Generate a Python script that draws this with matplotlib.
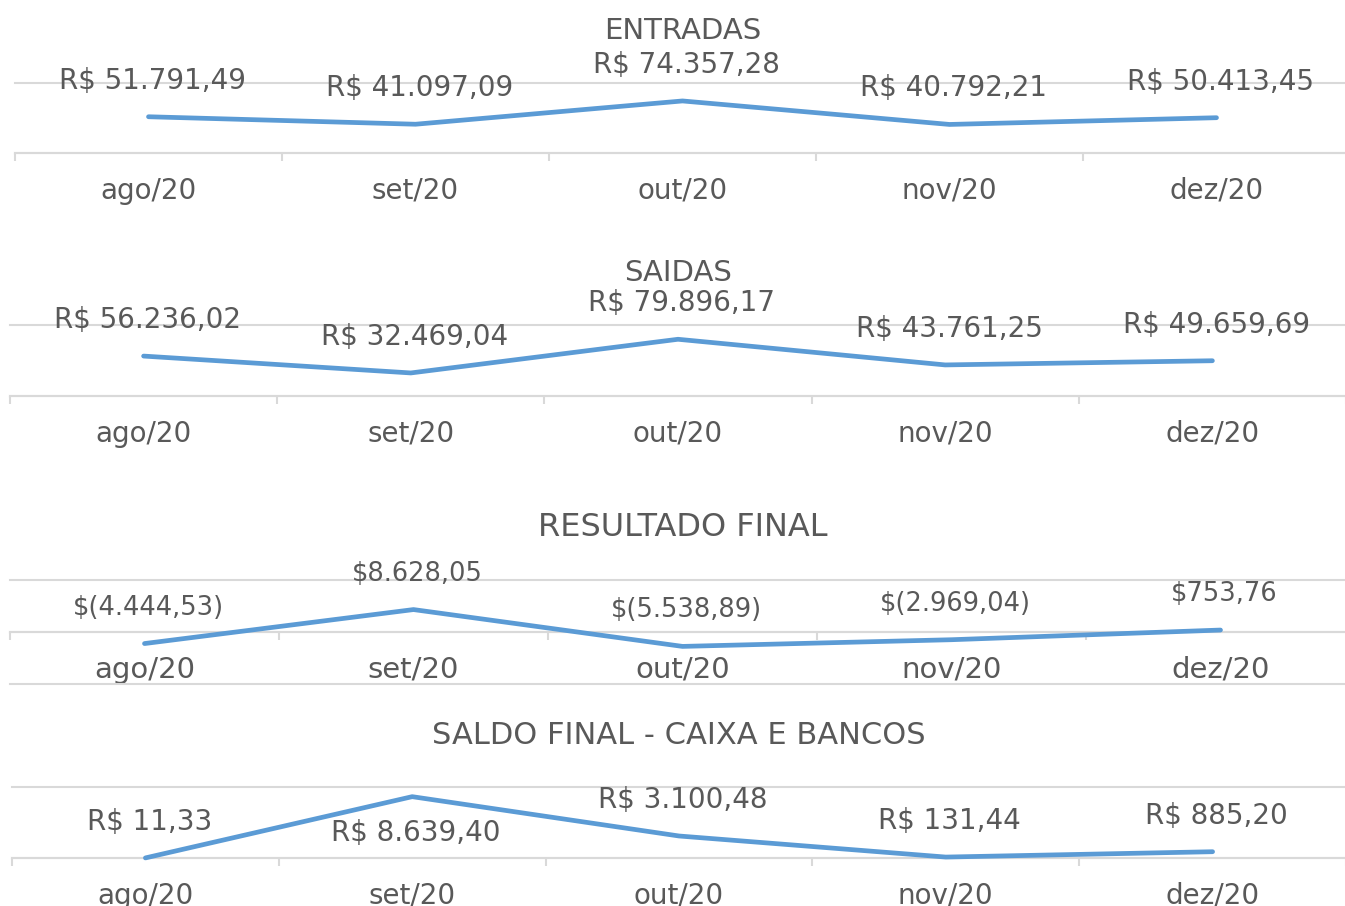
import matplotlib
matplotlib.use("Agg")
import matplotlib.pyplot as plt

matplotlib.rcParams.update({"font.family": "DejaVu Sans"})

W, H = 1345, 906
TXT = "#595959"
GRID = "#D9D9D9"
BLUE = "#5B9BD5"

months = ["ago/20", "set/20", "out/20", "nov/20", "dez/20"]

entradas = [51791.49, 41097.09, 74357.28, 40792.21, 50413.45]
saidas = [56236.02, 32469.04, 79896.17, 43761.25, 49659.69]
resultado = [-4444.53, 8628.05, -5538.89, -2969.04, 753.76]
saldo = [11.33, 8639.40, 3100.48, 131.44, 885.20]

titles = ["ENTRADAS", "SAIDAS", "RESULTADO FINAL", "SALDO FINAL - CAIXA E BANCOS"]


def br(v):
    s = f"{abs(v):,.2f}"
    return s.replace(",", "X").replace(".", ",").replace("X", ".")


def fmt_rs(v):
    return "R$ " + br(v)


def fmt_acc(v):
    return f"$({br(v)})" if v < 0 else f"${br(v)}"


# panel layout in pixels: left, right, top, bottom
panels = [
    dict(data=entradas, title=titles[0], box=(15, 1350, 83, 153), ylim=(0, 100000),
         grid=[0, 100000], fmt=fmt_rs, lab=20, tick=20, tsize=21, tdy=52,
         place=[1, 1, 1, 1, 1]),
    dict(data=saidas, title=titles[1], box=(10, 1346, 325, 396), ylim=(0, 100000),
         grid=[0, 100000], fmt=fmt_rs, lab=20, tick=20, tsize=21, tdy=52,
         place=[1, 1, 1, 1, 1]),
    dict(data=resultado, title=titles[2], box=(10, 1355, 580, 684), ylim=(-20000, 20000),
         grid=[-20000, 0, 20000], fmt=fmt_acc, lab=18.5, tick=21, tsize=23, tdy=53,
         place=[1, 1, 1, 1, 1]),
    dict(data=saldo, title=titles[3], box=(12, 1346, 787, 858), ylim=(0, 10000),
         grid=[0, 10000], fmt=fmt_rs, lab=20, tick=20, tsize=22, tdy=51,
         place=[1, -1, 1, 1, 1]),
]

fig = plt.figure(figsize=(W / 100, H / 100), dpi=100)

for p in panels:
    l, r, t, b = p["box"]
    ax = fig.add_axes([l / W, 1 - b / H, (r - l) / W, (b - t) / H])
    x = list(range(len(months)))
    ax.plot(x, p["data"], color=BLUE, lw=3.4, solid_capstyle="round",
            solid_joinstyle="round", clip_on=False, zorder=3)
    ax.set_xlim(-0.5, 4.5)
    ax.set_ylim(*p["ylim"])

    ax.set_yticks(p["grid"])
    ax.yaxis.grid(True, color=GRID, lw=1.5)
    for gl in ax.get_ygridlines():
        gl.set_clip_on(False)
    ax.tick_params(axis="y", length=0, labelleft=False)

    for s in ("left", "right", "top"):
        ax.spines[s].set_visible(False)
    ax.spines["bottom"].set_color(GRID)
    ax.spines["bottom"].set_linewidth(1.5)
    if p["ylim"][0] < 0:
        ax.spines["bottom"].set_position(("data", 0))

    ax.set_xticks(x)
    ax.set_xticklabels(months)
    ax.set_xticks([i - 0.5 for i in range(len(months) + 1)], minor=True)
    ax.tick_params(axis="x", which="major", length=0, pad=17,
                   labelsize=p["tick"], labelcolor=TXT)
    ax.tick_params(axis="x", which="minor", length=6, width=1.5, color=GRID)

    for i, v in enumerate(p["data"]):
        ax.annotate(p["fmt"](v), (i, v), xytext=(4, 36 * p["place"][i]),
                    textcoords="offset pixels", ha="center", va="center",
                    fontsize=p["lab"], color=TXT, zorder=4)

    ax.annotate(p["title"], (0.5, 1), xycoords="axes fraction",
                xytext=(0, p["tdy"]), textcoords="offset pixels",
                ha="center", va="center", fontsize=p["tsize"], color=TXT)

fig.savefig("out.png", dpi=100)
plt.close(fig)
